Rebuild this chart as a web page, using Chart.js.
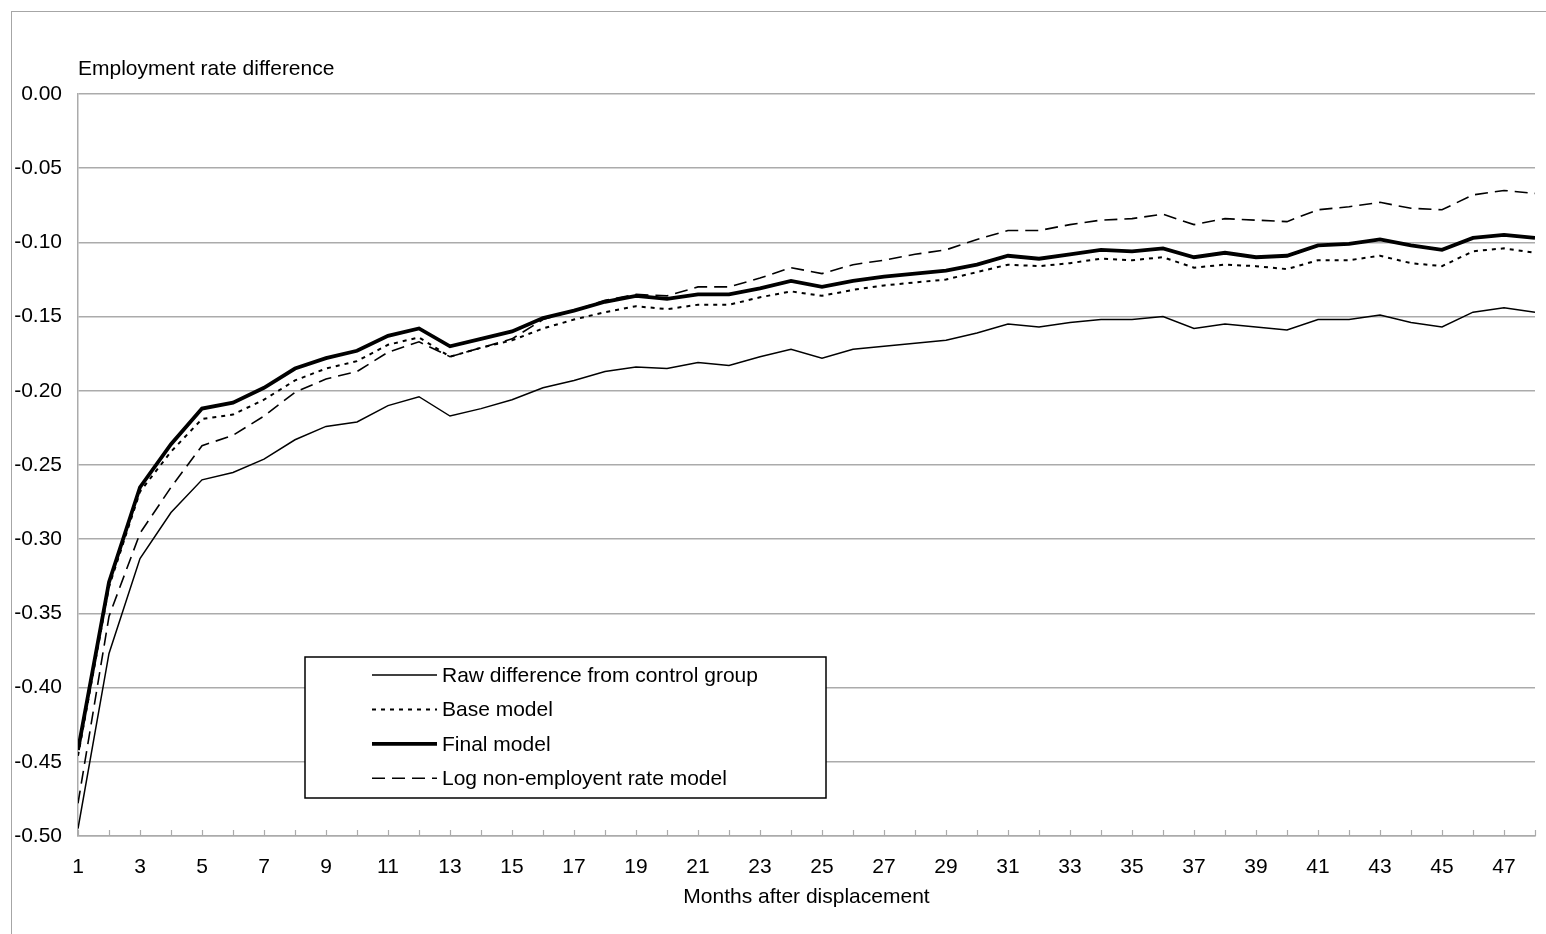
<!DOCTYPE html>
<html>
<head>
<meta charset="utf-8">
<script src="https://cdn.jsdelivr.net/npm/chart.js@4.4.1/dist/chart.umd.min.js"></script>
<style>
  html, body { margin: 0; padding: 0; background: #fff; overflow: hidden; }
  .frame { position: absolute; left: 11px; top: 11px; width: 3000px; height: 3000px;
           border-left: 1.5px solid #a6a6a6; border-top: 1.5px solid #a6a6a6; }
  #chart { position: absolute; left: 0; top: 0; }
</style>
</head>
<body>
<div class="frame"></div>
<canvas id="chart" width="1546" height="934"></canvas>
<script>
// months after displacement
const months = [1, 2, 3, 4, 5, 6, 7, 8, 9, 10, 11, 12, 13, 14, 15, 16, 17, 18, 19, 20, 21, 22, 23, 24,
  25, 26, 27, 28, 29, 30, 31, 32, 33, 34, 35, 36, 37, 38, 39, 40, 41, 42, 43, 44, 45, 46, 47, 48];

const rawDiff = [-0.495, -0.377, -0.313, -0.282, -0.260, -0.255, -0.246, -0.233, -0.224, -0.221,
  -0.210, -0.204, -0.217, -0.212, -0.206, -0.198, -0.193, -0.187, -0.184, -0.185,
  -0.181, -0.183, -0.177, -0.172, -0.178, -0.172, -0.170, -0.168, -0.166, -0.161,
  -0.155, -0.157, -0.154, -0.152, -0.152, -0.150, -0.158, -0.155, -0.157, -0.159,
  -0.152, -0.152, -0.149, -0.154, -0.157, -0.147, -0.144, -0.147];

const baseModel = [-0.446, -0.332, -0.268, -0.241, -0.219, -0.216, -0.206, -0.193, -0.185, -0.180,
  -0.169, -0.164, -0.177, -0.171, -0.166, -0.158, -0.152, -0.147, -0.143, -0.145,
  -0.142, -0.142, -0.137, -0.133, -0.136, -0.132, -0.129, -0.127, -0.125, -0.120,
  -0.115, -0.116, -0.114, -0.111, -0.112, -0.110, -0.117, -0.115, -0.116, -0.118,
  -0.112, -0.112, -0.109, -0.114, -0.116, -0.106, -0.104, -0.107];

const finalModel = [-0.442, -0.329, -0.265, -0.236, -0.212, -0.208, -0.198, -0.185, -0.178, -0.173,
  -0.163, -0.158, -0.170, -0.165, -0.160, -0.151, -0.146, -0.140, -0.136, -0.138,
  -0.135, -0.135, -0.131, -0.126, -0.130, -0.126, -0.123, -0.121, -0.119, -0.115,
  -0.109, -0.111, -0.108, -0.105, -0.106, -0.104, -0.110, -0.107, -0.110, -0.109,
  -0.102, -0.101, -0.098, -0.102, -0.105, -0.097, -0.095, -0.097];

const logModel = [-0.478, -0.352, -0.296, -0.265, -0.237, -0.230, -0.217, -0.201, -0.192, -0.187,
  -0.174, -0.167, -0.177, -0.171, -0.165, -0.152, -0.146, -0.139, -0.135, -0.136,
  -0.130, -0.130, -0.124, -0.117, -0.121, -0.115, -0.112, -0.108, -0.105, -0.098,
  -0.092, -0.092, -0.088, -0.085, -0.084, -0.081, -0.088, -0.084, -0.085, -0.086,
  -0.078, -0.076, -0.073, -0.077, -0.078, -0.068, -0.065, -0.067];

const seriesNames = ["Raw difference from control group", "Base model", "Final model", "Log non-employent rate model"];

const FONT = "'Liberation Sans', Arial, sans-serif";
const gridGrey = "#ababab";

function toPoints(vals) {
  return vals.map((v, i) => ({ x: months[i], y: v }));
}

// little tick marks pointing up into the plot, like the original
const innerTicks = {
  id: "innerTicks",
  beforeDatasetsDraw(chart) {
    const ctx = chart.ctx;
    const xs = chart.scales.x;
    const bottom = chart.chartArea.bottom;
    ctx.save();
    ctx.strokeStyle = gridGrey;
    ctx.lineWidth = 1.2;
    xs.ticks.forEach(t => {
      const px = Math.round(xs.getPixelForValue(t.value)) + 0.5;
      ctx.beginPath();
      ctx.moveTo(px, bottom);
      ctx.lineTo(px, bottom - 6);
      ctx.stroke();
    });
    ctx.restore();
  }
};

// boxed legend sitting inside the plot
const boxLegend = {
  id: "boxLegend",
  afterDatasetsDraw(chart) {
    const ctx = chart.ctx;
    const left = 305, top = 657, right = 826, bottom = 798;
    ctx.save();
    ctx.fillStyle = "#fff";
    ctx.fillRect(left, top, right - left, bottom - top);
    ctx.strokeStyle = "#000";
    ctx.lineWidth = 1.5;
    ctx.strokeRect(left, top, right - left, bottom - top);
    ctx.font = "21px " + FONT;
    ctx.textBaseline = "middle";
    ctx.fillStyle = "#000";
    chart.data.datasets.forEach((ds, i) => {
      const y = 675 + i * 34.4;
      ctx.beginPath();
      ctx.setLineDash(ds.borderDash || []);
      ctx.lineWidth = ds.borderWidth;
      ctx.strokeStyle = ds.borderColor;
      ctx.moveTo(372, y);
      ctx.lineTo(437, y);
      ctx.stroke();
      ctx.setLineDash([]);
      ctx.fillText(ds.label, 442, y + 1);
    });
    ctx.restore();
  }
};

new Chart(document.getElementById("chart"), {
  type: "line",
  data: {
    datasets: [
      { label: seriesNames[0], data: toPoints(rawDiff), borderColor: "#000", borderWidth: 1.5 },
      { label: seriesNames[1], data: toPoints(baseModel), borderColor: "#000", borderWidth: 2, borderDash: [4, 5] },
      { label: seriesNames[2], data: toPoints(finalModel), borderColor: "#000", borderWidth: 3.8 },
      { label: seriesNames[3], data: toPoints(logModel), borderColor: "#000", borderWidth: 1.6, borderDash: [13, 7] }
    ]
  },
  options: {
    responsive: false,
    animation: false,
    layout: { padding: { top: 56.4, right: 11, bottom: 0, left: 0 } },
    elements: { point: { radius: 0 }, line: { tension: 0, fill: false } },
    plugins: {
      legend: { display: false },
      tooltip: { enabled: false },
      title: {
        display: true,
        text: "Employment rate difference",
        position: "top",
        align: "start",
        fullSize: false,
        color: "#000",
        font: { family: FONT, size: 21, weight: "normal" },
        padding: { top: 0, bottom: 12.4 }
      }
    },
    scales: {
      x: {
        type: "linear",
        min: 1,
        max: 48,
        afterFit: s => { s.height = 98; s.paddingRight = 0; },
        grid: { display: true, drawOnChartArea: false, drawTicks: false },
        border: { display: true, color: gridGrey, width: 1.5 },
        ticks: {
          stepSize: 1,
          autoSkip: false,
          maxRotation: 0,
          padding: 19,
          color: "#000",
          font: { family: FONT, size: 21 },
          callback: v => (v % 2 === 1 ? String(v) : "")
        },
        title: {
          display: true,
          text: "Months after displacement",
          color: "#000",
          font: { family: FONT, size: 21 },
          padding: { top: 4, bottom: 24 }
        }
      },
      y: {
        min: -0.5,
        max: 0,
        afterFit: s => { s.width = 78; },
        grid: { color: gridGrey, lineWidth: 1.5, drawTicks: false },
        border: { display: true, color: gridGrey, width: 1.5 },
        ticks: {
          stepSize: 0.05,
          padding: 16,
          color: "#000",
          font: { family: FONT, size: 21 },
          callback: v => Number(v).toFixed(2)
        }
      }
    }
  },
  plugins: [innerTicks, boxLegend]
});
</script>
</body>
</html>
